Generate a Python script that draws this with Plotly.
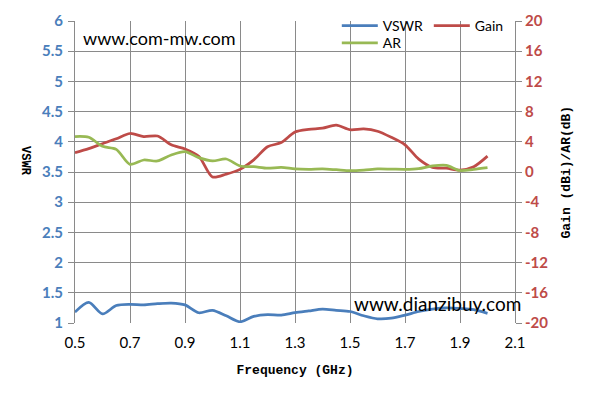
import plotly.graph_objects as go

freq = [0.50, 0.55, 0.60, 0.65, 0.70, 0.75, 0.80, 0.85, 0.90, 0.95, 1.00,
        1.05, 1.10, 1.15, 1.20, 1.25, 1.30, 1.35, 1.40, 1.45, 1.50, 1.55,
        1.60, 1.65, 1.70, 1.75, 1.80, 1.85, 1.90, 1.95, 2.00]
vswr = [1.18, 1.34, 1.15, 1.29, 1.31, 1.30, 1.32, 1.33, 1.30, 1.17, 1.21,
        1.12, 1.02, 1.11, 1.14, 1.13, 1.17, 1.20, 1.23, 1.21, 1.19, 1.12,
        1.07, 1.08, 1.13, 1.19, 1.23, 1.25, 1.24, 1.22, 1.16]
gain = [2.56, 3.1, 3.75, 4.4, 5.1, 4.68, 4.77, 3.6, 3.05, 2.1, -0.65,
        -0.28, 0.35, 1.6, 3.35, 3.9, 5.3, 5.65, 5.8, 6.2, 5.6, 5.7,
        5.4, 4.6, 3.6, 1.7, 0.6, 0.5, 0.25, 0.7, 2.1]
ar = [4.7, 4.6, 3.4, 3.0, 1.02, 1.59, 1.46, 2.25, 2.7, 1.9, 1.46,
      1.72, 0.8, 0.7, 0.5, 0.62, 0.4, 0.35, 0.4, 0.3, 0.18, 0.25,
      0.4, 0.38, 0.35, 0.45, 0.8, 0.88, 0.2, 0.35, 0.57]

x_ticks = [0.5, 0.7, 0.9, 1.1, 1.3, 1.5, 1.7, 1.9, 2.1]
left_ticks = [1, 1.5, 2, 2.5, 3, 3.5, 4, 4.5, 5, 5.5, 6]
right_ticks = [-20, -16, -12, -8, -4, 0, 4, 8, 12, 16, 20]

BLUE = "#4a7ebb"
RED = "#be4b48"
GREEN = "#98b954"
GRID = "#8a8a8a"

LEG_FONT = dict(family="Lato", size=14, color="black")

fig = go.Figure()
fig.add_trace(go.Scatter(x=freq, y=vswr, name="VSWR", mode="lines",
                         line=dict(color=BLUE, width=2.75, shape="spline", smoothing=0.8),
                         yaxis="y", legend="legend"))
fig.add_trace(go.Scatter(x=freq, y=gain, name="Gain", mode="lines",
                         line=dict(color=RED, width=2.75, shape="spline", smoothing=0.8),
                         yaxis="y2", legend="legend"))
fig.add_trace(go.Scatter(x=freq, y=ar, name="AR", mode="lines",
                         line=dict(color=GREEN, width=2.75, shape="spline", smoothing=0.8),
                         yaxis="y2", legend="legend2"))

fig.update_layout(
    width=589, height=404,
    margin=dict(l=75, r=74, t=21, b=81, autoexpand=False),
    paper_bgcolor="white", plot_bgcolor="white",
    showlegend=True,
    legend=dict(x=0.595, y=1.036, xanchor="left", yanchor="top",
                orientation="h", bgcolor="rgba(0,0,0,0)",
                font=LEG_FONT, entrywidth=41, itemwidth=36,
                tracegroupgap=0),
    legend2=dict(x=0.595, y=0.979, xanchor="left", yanchor="top",
                 orientation="h", bgcolor="rgba(0,0,0,0)",
                 font=LEG_FONT, itemwidth=36),
    xaxis=dict(range=[0.5, 2.1], tickvals=x_ticks,
               ticktext=[f"{v:.1f}" for v in x_ticks],
               showgrid=True, gridcolor=GRID, gridwidth=1,
               zeroline=False, showline=False, ticks="", automargin=False,
               ticklabelstandoff=9,
               tickfont=dict(family="Lato", size=15, color="black"),
               title=dict(text="<b>Frequency (GHz)</b>",
                          font=dict(family="Liberation Mono", size=13, color="black"),
                          standoff=14)),
    yaxis=dict(range=[1, 6], tickvals=left_ticks,
               ticktext=[f"{v:g}" for v in left_ticks],
               showgrid=True, gridcolor=GRID, gridwidth=1, automargin=False,
               zeroline=False, showline=True, linecolor=GRID, linewidth=1,
               ticks="outside", ticklen=6, tickcolor=GRID, ticklabelstandoff=2,
               tickfont=dict(family="Lato", size=15, color=BLUE, weight="bold")),
    yaxis2=dict(range=[-20, 20], tickvals=right_ticks,
                ticktext=[str(v) for v in right_ticks],
                overlaying="y", side="right", automargin=False,
                showgrid=False, zeroline=False,
                showline=True, linecolor=GRID, linewidth=1,
                ticks="outside", ticklen=6, tickcolor=GRID,
                tickfont=dict(family="Lato", size=15, color=RED, weight="bold")),
    annotations=[
        dict(text="www.com-mw.com", xref="paper", yref="paper", x=0.014, y=0.943,
             xanchor="left", yanchor="middle", showarrow=False,
             font=dict(family="Lato", size=18, color="black")),
        dict(text="www.dianzibuy.com", xref="paper", yref="paper", x=0.63, y=0.066,
             xanchor="left", yanchor="middle", showarrow=False,
             font=dict(family="Lato", size=19, color="black")),
        dict(text="<b>VSWR</b>", xref="paper", yref="paper", x=-0.115, y=0.535,
             xanchor="center", yanchor="middle", showarrow=False, textangle=90,
             font=dict(family="Liberation Mono", size=12, color="black")),
        dict(text="<b>Gain (dBi)/AR(dB)</b>", xref="paper", yref="paper", x=1.117, y=0.5,
             xanchor="center", yanchor="middle", showarrow=False, textangle=-90,
             font=dict(family="Liberation Mono", size=13, color="black")),
    ],
)

fig.write_html("out.html", config={"displayModeBar": False},
               post_script="document.body.style.margin='0px';")
